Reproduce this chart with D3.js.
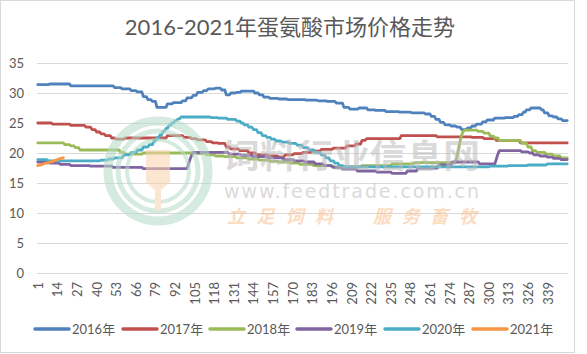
<!DOCTYPE html>
<html><head><meta charset="utf-8">
<script src="https://cdn.jsdelivr.net/npm/d3@7"></script>
<style>body{margin:0;background:#fff}svg{display:block}</style></head>
<body><svg id="c" width="587" height="354"></svg>
<script>
const title = "2016-2021年蛋氨酸市场价格走势";
const seriesNames = ["2016年","2017年","2018年","2019年","2020年","2021年"];
const yTicks = [0,5,10,15,20,25,30,35];
const xTickLabels = [1,14,27,40,53,66,79,92,105,118,131,144,157,170,183,196,209,222,235,248,261,274,287,300,313,326,339];
const categories = d3.range(1, 353);

const s2016 = [
31.4,31.4,31.4,31.4,31.4,31.4,31.4,31.4,
31.5,31.5,31.5,31.5,31.5,31.5,31.5,31.5,31.5,31.5,31.5,31.5,31.5,31.5,
31.2,31.2,31.2,31.2,31.2,31.2,31.2,31.2,31.2,31.2,
31.2,31.2,31.2,31.2,31.2,31.2,31.2,31.2,31.2,31.2,
31.2,31.2,31.2,31.2,31.2,31.2,31.2,31.2,31.2,
30.9,30.9,30.9,30.9,30.9,
30.7,30.7,30.7,30.7,30.7,30.7,
30.4,30.4,30.4,30.4,
30.2,30.2,30.2,30.2,
29.4,29.4,29.4,28.9,28.9,28.9,28.6,28.6,28.6,
27.6,27.6,27.6,27.6,27.6,27.6,27.6,
28.2,28.2,28.2,28.2,
28.4,28.4,28.4,28.4,28.4,28.4,
28.7,28.7,28.7,
29.2,29.2,29.2,29.2,
29.6,29.6,29.6,
30.1,30.1,30.1,30.1,
30.4,30.4,30.4,
30.7,30.7,30.7,30.7,30.7,
30.8,30.8,30.8,30.8,
30.5,30.5,30.5,29.7,29.7,29.7,
30.0,30.0,30.0,30.0,30.1,30.1,30.1,
30.3,30.3,30.3,30.3,30.3,30.3,30.3,30.3,30.3,
30.0,30.0,30.0,29.7,29.7,29.7,
29.3,29.3,29.3,29.3,
29.1,29.1,29.1,29.1,29.1,29.1,
29.0,29.0,29.0,29.0,29.0,29.0,
28.9,28.9,28.9,28.9,28.9,28.9,28.9,28.9,28.9,28.9,28.9,28.9,
28.8,28.8,28.8,28.8,28.8,28.8,28.8,28.8,
28.7,28.7,28.7,28.7,28.7,28.7,
28.6,28.6,28.6,28.6,28.6,28.6,
28.3,28.3,28.3,28.3,28.3,
27.6,27.6,27.6,27.6,
27.3,27.3,27.3,27.3,27.3,27.3,
27.5,27.5,27.5,27.5,27.5,27.5,
27.2,27.2,27.2,27.2,27.2,
27.1,27.1,27.1,27.1,27.1,27.1,27.1,
26.9,26.9,26.9,26.9,26.9,26.9,26.9,26.9,26.9,
26.8,26.8,26.8,26.8,26.8,26.8,26.8,26.8,
26.7,26.7,26.7,26.7,26.7,26.7,26.7,26.7,26.7,
26.5,26.5,26.5,26.5,
26.1,26.1,26.1,25.6,25.6,25.6,25.1,25.1,25.1,
24.7,24.7,24.7,24.7,24.5,24.5,24.5,24.5,
24.3,24.3,24.3,23.9,23.9,23.9,23.9,
24.2,24.2,24.2,24.5,24.5,24.5,
24.8,24.8,24.8,24.8,25.2,25.2,25.2,
25.5,25.5,25.5,25.5,25.5,
25.8,25.8,25.8,25.8,25.8,25.8,25.8,
25.9,25.9,25.9,25.9,25.9,25.9,
26.1,26.1,26.1,26.4,26.4,26.4,26.8,26.8,
27.2,27.2,27.2,
27.5,27.5,27.5,27.5,27.5,27.5,27.5,
27.2,27.2,26.7,26.7,26.7,
26.2,26.2,26.2,26.0,26.0,26.0,
25.7,25.7,25.7,25.4,25.4,25.4,25.4
];

const s2017 = [
25.0,25.0,25.0,25.0,25.0,25.0,25.0,25.0,25.0,25.0,
24.8,24.8,24.8,24.8,24.8,24.8,24.8,24.8,24.8,24.8,24.8,24.8,
24.6,24.6,24.6,24.6,24.6,24.6,24.6,24.6,24.6,24.6,
24.3,24.3,24.3,24.3,
23.9,23.9,23.9,23.5,23.5,23.5,23.2,23.2,23.2,
22.9,22.9,22.9,22.9,22.5,22.5,22.5,
22.3,22.3,22.3,22.3,22.3,22.3,
22.5,22.5,22.5,22.5,22.5,22.5,22.5,22.5,22.5,22.5,
22.5,22.5,22.5,22.5,22.5,22.5,22.5,22.5,22.5,22.5,
22.5,22.5,22.5,22.5,22.5,22.5,22.5,22.5,
22.9,22.9,22.9,22.9,22.9,22.9,22.9,22.9,22.9,22.9,22.9,
22.6,22.6,22.6,22.6,22.6,
22.4,22.4,22.4,22.4,
22.2,22.2,22.2,22.2,22.2,22.2,
21.9,21.9,21.9,21.9,21.7,21.7,21.7,21.7,
21.6,21.6,21.6,21.6,21.6,21.0,21.0,21.0,
20.7,20.7,20.7,20.7,20.7,20.7,
20.4,20.4,20.4,20.4,20.4,20.4,
20.0,20.0,20.0,20.0,20.0,
19.7,19.7,19.7,19.7,19.7,19.7,19.7,19.7,
19.5,19.5,19.5,19.5,19.5,19.5,19.5,
19.3,19.3,19.3,19.3,
19.7,19.7,19.7,19.7,19.7,19.7,
19.9,19.9,19.9,19.9,19.9,19.9,
20.1,20.1,20.1,20.1,20.1,20.1,
20.3,20.3,20.3,20.3,20.3,20.3,
20.6,20.6,20.6,20.6,20.6,20.6,20.6,20.6,
20.8,20.8,20.8,20.8,20.8,20.8,20.8,20.8,20.8,
21.2,21.2,21.2,21.2,21.2,21.2,
21.5,21.5,21.5,21.5,22.1,22.1,22.1,
22.4,22.4,22.4,22.4,22.4,22.4,22.4,22.4,22.4,22.4,
22.4,22.4,22.4,22.4,22.4,22.4,22.4,22.4,22.4,22.4,
22.4,22.4,22.4,
22.9,22.9,22.9,22.9,22.9,22.9,22.9,22.9,22.9,22.9,
22.9,22.9,22.9,22.9,22.9,22.9,22.9,22.9,22.9,22.9,
22.9,22.9,22.9,22.9,
22.7,22.7,22.7,22.7,22.7,22.7,22.7,22.7,22.7,22.7,
22.7,22.7,22.7,22.7,22.7,22.7,22.7,22.7,22.7,22.7,
22.7,22.7,22.7,
22.6,22.6,22.6,22.6,22.6,22.6,22.6,22.6,
22.4,22.4,22.4,22.4,22.4,22.4,22.4,22.4,
22.1,22.1,22.1,22.1,22.1,22.1,22.1,22.1,22.1,22.1,
22.1,22.1,22.1,22.1,22.1,22.1,
21.7,21.7,21.7,21.7,21.7,21.7,21.7,21.7,21.7,21.7,
21.7,21.7,21.7,21.7,21.7,21.7,21.7,21.7,21.7,21.7,
21.7,21.7,21.7,21.7,21.7,21.7,21.7,21.7,21.7,21.7,
21.7,21.7
];

const s2018 = [
21.7,21.7,21.7,21.7,21.7,21.7,21.7,21.7,21.7,21.7,
21.7,21.7,21.7,21.7,21.7,21.7,21.7,21.7,
21.4,21.4,21.4,21.4,21.2,21.2,21.2,20.9,20.9,20.9,
20.5,20.5,20.5,20.5,20.5,20.5,20.5,20.5,20.5,20.5,
20.5,20.5,20.5,20.5,20.5,20.5,20.5,20.5,20.5,20.5,
20.5,20.5,20.5,20.5,20.5,20.5,20.5,
20.1,20.1,20.1,
19.8,19.8,19.8,19.8,19.8,19.8,19.8,19.8,19.8,19.8,19.8,19.8,
20.0,20.0,20.0,20.0,20.0,20.0,20.0,20.0,20.0,20.0,
20.0,20.0,20.0,20.0,20.0,20.0,20.0,20.0,20.0,20.0,
20.0,20.0,20.0,20.0,20.0,20.0,20.0,20.0,20.0,20.0,
20.0,20.0,20.0,20.0,20.0,20.0,
19.9,19.9,19.9,19.9,19.9,19.9,
19.7,19.7,19.7,19.7,19.7,19.7,
19.5,19.5,19.5,19.5,19.5,19.5,
19.4,19.4,19.4,19.4,19.4,19.4,19.4,19.4,
19.2,19.2,19.2,19.2,19.2,19.2,19.2,19.2,
19.0,19.0,19.0,19.0,19.0,19.0,19.0,
18.8,18.8,18.8,18.8,18.8,18.8,18.8,
18.6,18.6,18.6,18.6,18.6,18.6,
18.5,18.5,18.5,18.5,18.5,18.5,18.5,18.5,
18.3,18.3,18.3,18.3,18.3,18.3,
18.1,18.1,18.1,18.1,18.1,18.1,18.1,18.1,18.1,
17.9,17.9,17.9,17.9,17.9,17.9,17.9,17.9,17.9,17.9,17.9,17.9,
17.7,17.7,17.7,17.7,17.7,17.7,17.7,17.7,17.7,17.7,
17.7,17.7,17.7,17.7,17.7,17.7,17.7,17.7,17.7,17.7,
17.9,17.9,17.9,17.9,17.9,17.9,17.9,17.9,17.9,17.9,
17.9,17.9,17.9,17.9,17.9,17.9,17.9,17.9,17.9,17.9,
18.2,18.2,18.2,18.2,18.2,18.2,18.2,18.2,18.2,18.2,
18.2,18.2,18.2,18.2,18.2,
18.4,18.4,18.4,18.4,18.4,18.4,18.4,18.4,18.4,18.4,
18.4,18.4,18.4,18.4,18.4,18.4,18.4,18.4,18.4,18.4,
18.4,18.4,18.4,18.4,18.4,18.4,18.4,18.4,
19.5,20.8,22.0,23.0,23.6,
23.8,23.8,23.8,23.8,23.8,23.8,23.8,23.8,23.8,
23.6,23.6,23.6,23.6,
23.3,23.3,23.3,23.3,
22.8,22.8,22.8,22.5,22.5,22.5,
22.1,22.1,22.1,22.1,22.1,22.1,22.1,22.1,22.1,22.1,
22.1,22.1,22.1,22.1,22.1,
21.6,21.6,21.6,21.6,
21.0,21.0,21.0,20.4,20.4,20.4,
20.1,20.1,20.1,20.1,20.1,20.1,
19.8,19.8,19.8,19.8,19.8,
19.5,19.5,19.5,19.5,19.5,
19.2,19.2,19.2,19.2,19.2
];

const s2019 = [
18.5,18.5,18.5,18.5,18.5,18.5,18.5,18.5,
18.3,18.3,18.3,18.3,18.3,18.3,18.3,
18.1,18.1,18.1,18.1,18.1,18.1,18.1,
17.9,17.9,17.9,17.9,17.9,17.9,17.9,17.9,17.9,17.9,17.9,17.9,17.9,
17.8,17.8,17.8,17.8,17.8,17.8,17.8,17.8,17.8,17.8,
17.8,17.8,17.8,17.8,17.8,
17.6,17.6,17.6,17.6,17.6,17.6,17.6,17.6,17.6,17.6,
17.6,17.6,17.6,17.6,17.6,17.6,17.6,17.6,17.6,17.6,
17.4,17.4,17.4,17.4,17.4,17.4,17.4,17.4,17.4,17.4,
17.4,17.4,17.4,17.4,17.4,17.4,17.4,17.4,17.4,17.4,
17.4,17.4,17.4,17.4,17.4,17.4,17.4,17.4,17.4,17.4,
18.2,19.0,19.6,
20.1,20.1,20.1,20.1,20.1,20.1,20.1,20.1,20.1,20.1,
20.1,20.1,20.1,20.1,20.1,20.1,20.1,20.1,20.1,20.1,
20.1,20.1,20.1,20.1,
19.8,19.8,19.8,19.8,19.8,19.8,19.8,19.8,
19.6,19.6,19.6,19.6,19.6,19.6,19.6,19.6,
19.4,19.4,19.4,19.4,19.4,19.4,19.4,19.4,19.4,19.4,
19.2,19.2,19.2,19.2,19.2,19.2,19.2,19.2,19.2,19.2,
18.9,18.9,18.9,18.9,18.9,18.9,18.9,
18.7,18.7,18.7,18.7,18.7,18.7,18.7,
18.5,18.5,18.5,18.5,18.5,18.5,18.5,
18.2,18.2,18.2,18.2,18.2,18.2,
17.9,17.9,17.9,17.9,17.9,17.9,
17.6,17.6,17.6,17.6,17.6,17.6,
17.3,17.3,17.3,17.3,17.3,17.3,17.3,17.3,17.3,17.3,
17.0,17.0,17.0,17.0,17.0,17.0,17.0,17.0,17.0,17.0,17.0,17.0,17.0,
16.8,16.8,16.8,16.8,16.8,16.8,16.8,16.8,16.8,16.8,
16.6,16.6,16.6,16.6,16.6,16.6,16.6,16.6,16.6,16.6,
17.0,17.0,17.0,17.0,17.0,17.0,17.0,
17.5,17.5,17.5,17.5,17.5,17.5,17.5,17.5,17.5,17.5,17.5,17.5,17.5,17.5,
18.0,18.0,18.0,18.0,18.0,18.0,18.0,18.0,18.0,
18.5,18.5,18.5,18.5,18.5,18.5,18.5,18.5,18.5,18.5,
18.5,18.5,18.5,18.5,18.5,18.5,18.5,18.5,
18.2,18.2,18.2,18.2,18.2,18.2,18.2,18.2,18.2,18.2,18.2,
19.0,19.8,
20.4,20.4,20.4,20.4,20.4,20.4,20.4,20.4,20.4,20.4,
20.4,20.4,20.4,20.4,20.4,
20.2,20.2,20.2,20.2,20.2,
20.0,20.0,20.0,
19.7,19.7,19.7,19.7,
19.5,19.5,19.5,19.5,19.5,
19.3,19.3,19.3,19.3,
19.1,19.1,19.1,19.1,19.1,
18.9,18.9,18.9,18.9,18.9
];

const s2020 = [
18.9,18.9,18.9,18.9,18.9,18.9,18.9,
18.7,18.7,18.7,18.7,18.7,18.7,18.7,18.7,18.7,18.7,
18.7,18.7,18.7,18.7,18.7,18.7,18.7,18.7,18.7,18.7,
18.7,18.7,18.7,18.7,18.7,18.7,18.7,18.7,18.7,18.7,
18.7,18.7,18.7,18.7,18.7,
18.8,18.8,18.8,18.8,18.8,
19.0,19.0,19.0,19.0,
19.2,19.2,19.2,19.2,19.2,19.2,
19.7,19.7,19.7,19.7,19.7,
20.1,20.1,20.1,20.1,
20.5,20.5,20.5,20.5,
21.0,21.0,21.0,21.0,
21.4,21.4,21.4,
22.0,22.0,22.5,22.5,23.0,23.0,23.6,23.6,24.1,24.1,
24.6,24.6,25.0,25.0,25.4,25.4,25.7,25.7,
26.0,26.0,26.0,26.0,26.0,26.0,26.0,26.0,26.0,26.0,
26.0,26.0,26.0,26.0,26.0,26.0,26.0,26.0,26.0,26.0,
25.9,25.9,25.9,25.9,25.9,
25.8,25.8,25.8,25.8,25.8,25.8,
25.6,25.6,25.6,25.6,25.6,25.6,
25.3,25.3,25.3,25.0,25.0,
24.7,24.7,24.7,24.3,24.3,24.3,
23.9,23.9,23.9,23.4,23.4,23.4,
22.9,22.9,22.9,22.6,22.6,22.6,
22.3,22.3,22.3,
22.0,22.0,22.0,22.0,
21.8,21.8,21.8,21.8,21.8,
21.6,21.6,21.6,21.6,21.6,
21.3,21.3,21.3,21.3,
20.9,20.9,20.9,20.9,
20.5,20.5,20.5,20.5,
20.1,20.1,20.1,20.1,
19.7,19.7,19.7,19.2,19.2,19.2,
18.7,18.7,18.7,18.3,18.3,18.3,
17.9,17.9,17.9,
17.7,17.7,17.7,17.7,17.7,17.7,17.7,17.7,17.7,17.7,
17.7,17.7,17.7,17.7,17.7,17.7,17.7,17.7,17.7,17.7,
17.7,17.7,17.7,17.7,17.7,17.7,17.7,17.7,17.7,17.7,
17.7,17.7,17.7,17.7,17.7,17.7,17.7,17.7,17.7,17.7,
17.7,17.7,17.7,17.7,17.7,17.7,17.7,17.7,17.7,17.7,
17.7,17.7,17.7,17.7,17.7,17.7,17.7,17.7,17.7,17.7,
17.7,17.7,17.7,17.7,17.7,17.7,17.7,17.7,17.7,17.7,
17.7,17.7,17.7,17.7,17.7,17.7,17.7,17.7,17.7,17.7,
17.7,17.7,17.7,17.7,17.7,17.7,17.7,17.7,17.7,17.7,
17.7,17.7,17.7,17.7,17.7,17.7,17.7,
17.8,17.8,17.8,17.8,17.8,17.8,17.8,17.8,17.8,17.8,17.8,17.8,
17.9,17.9,17.9,17.9,17.9,17.9,17.9,17.9,17.9,17.9,17.9,17.9,17.9,
18.0,18.0,18.0,18.0,18.0,18.0,18.0,18.0,18.0,18.0,18.0,18.0,18.0,
18.2,18.2,18.2,18.2,18.2,18.2,18.2,18.2,18.2,18.2,18.2,18.2,18.2,18.2
];

const s2021 = [17.9,18.0,18.0,18.1,18.2,18.3,18.3,18.4,18.5,18.5,18.6,18.7,18.8,18.9,19.0,19.1,19.1,19.2];

const seriesData = [s2016, s2017, s2018, s2019, s2020, s2021];
const colors = ["#4F81BD","#C0504D","#9BBB59","#8064A2","#4BACC6","#F79646"];

const FONT = "Lato, 'Noto Sans CJK SC', sans-serif";
const svg = d3.select("#c");

svg.append("rect").attr("x",0.5).attr("y",0.5).attr("width",574).attr("height",352)
  .attr("fill","#fff").attr("stroke","#d9d9d9");

const x = d3.scaleBand().domain(categories).range([37, 568]);
const bw = x.bandwidth();
const y = d3.scaleLinear().domain([0, 35]).range([273, 63]);

// gridlines
svg.append("g").selectAll("line").data(yTicks).join("line")
  .attr("x1",37).attr("x2",568)
  .attr("y1",d=>Math.round(y(d))+0.5).attr("y2",d=>Math.round(y(d))+0.5)
  .attr("stroke","#d9d9d9").attr("stroke-width",1);

// y labels
svg.append("g").selectAll("text").data(yTicks).join("text")
  .attr("x",24).attr("y",d=>y(d)).attr("text-anchor","end").attr("dominant-baseline","central")
  .attr("font-family",FONT).attr("font-size",13).attr("fill","#595959").text(d=>d);

// x labels
svg.append("g").selectAll("text").data(xTickLabels).join("text")
  .attr("transform",d=>`translate(${x(d)+bw/2},282) rotate(-90)`)
  .attr("text-anchor","end").attr("dominant-baseline","central")
  .attr("font-family",FONT).attr("font-size",13).attr("fill","#595959").text(d=>d);

// title
svg.append("text").attr("x",290).attr("y",26).attr("text-anchor","middle").attr("dominant-baseline","central")
  .attr("font-family",FONT).attr("font-size",22).attr("fill","#595959").text(title);

// lines
const line = d3.line().x((d,i)=>x(categories[i])+bw/2).y(d=>y(d));
svg.append("g").selectAll("path").data(seriesData).join("path")
  .attr("d",d=>line(d)).attr("fill","none")
  .attr("stroke",(d,i)=>colors[i]).attr("stroke-width",2.8)
  .attr("stroke-linejoin","round").attr("stroke-linecap","round");

// watermark
const wm = svg.append("g").attr("opacity",0.55);
[[50,9],[40,5],[31,4]].forEach(([r,w])=>{
  wm.append("circle").attr("cx",158).attr("cy",171).attr("r",r)
    .attr("fill","none").attr("stroke","#b5dcc8").attr("stroke-width",w);
});
wm.append("path").attr("d","M146,150 L170,150 L170,182 L161,190 L161,210 L155,210 L155,190 L146,182 Z")
  .attr("fill","#fbd3ad");
wm.append("text").attr("x",223).attr("y",168).attr("textLength",257).attr("lengthAdjust","spacingAndGlyphs")
  .attr("font-family","'Noto Sans CJK SC', sans-serif").attr("font-weight","bold").attr("font-size",33)
  .attr("fill","#bdbdbd").text("饲料行业信息网");
wm.append("text").attr("x",224).attr("y",198).attr("textLength",255).attr("lengthAdjust","spacing")
  .attr("font-family","'DejaVu Sans', sans-serif").attr("font-size",19)
  .attr("fill","#bdbdbd").text("www.feedtrade.com.cn");
wm.append("text").attr("x",227).attr("y",223).attr("textLength",106).attr("lengthAdjust","spacing")
  .attr("font-family","'Noto Sans CJK SC', sans-serif").attr("font-weight","bold").attr("font-style","italic").attr("font-size",18)
  .attr("fill","#fbc08e").text("立足饲料");
wm.append("text").attr("x",373).attr("y",223).attr("textLength",104).attr("lengthAdjust","spacing")
  .attr("font-family","'Noto Sans CJK SC', sans-serif").attr("font-weight","bold").attr("font-style","italic").attr("font-size",18)
  .attr("fill","#fbc08e").text("服务畜牧");

// legend
const legendX = [35,123,210,297,385,473];
const lg = svg.append("g").selectAll("g").data(seriesNames).join("g")
  .attr("transform",(d,i)=>`translate(${legendX[i]},329)`);
lg.append("line").attr("x1",0).attr("x2",34).attr("y1",0).attr("y2",0)
  .attr("stroke",(d,i)=>colors[i]).attr("stroke-width",3.5).attr("stroke-linecap","round");
lg.append("text").attr("x",37).attr("y",0).attr("dominant-baseline","central")
  .attr("font-family",FONT).attr("font-size",13).attr("fill","#595959").text(d=>d);
</script>
</body></html>
